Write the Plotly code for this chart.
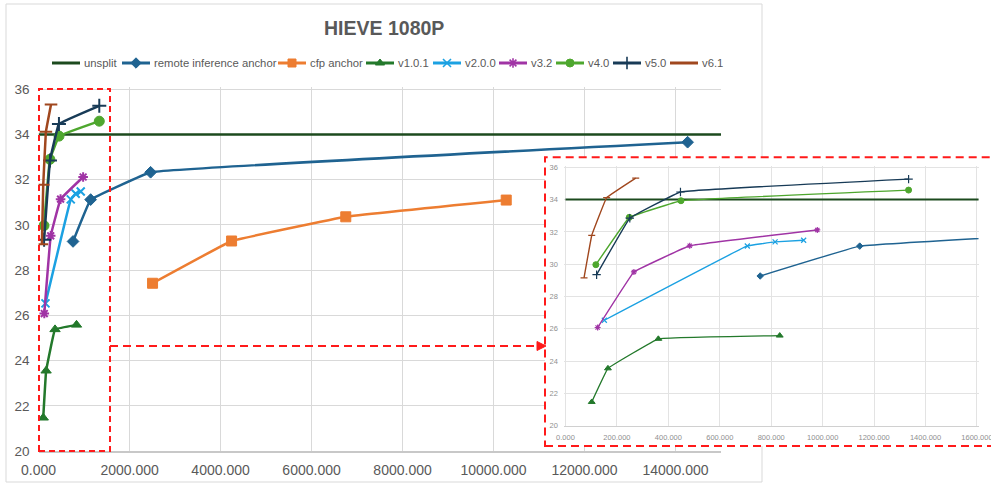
import plotly.graph_objects as go

# ---------------- data ----------------
unsplit_x = [0, 15000]
unsplit_y = [34.0, 34.0]
remote_x = [757, 1144, 2462, 14266]
remote_y = [29.27, 31.12, 32.33, 33.66]
cfp_x = [2505, 4242, 6752, 10279]
cfp_y = [27.42, 29.29, 30.36, 31.10]
v101_x = [102, 165, 361, 833]
v101_y = [21.47, 23.55, 25.38, 25.58]
v200_x = [151, 707, 815, 926]
v200_y = [26.53, 31.13, 31.38, 31.48]
v32_x = [125, 266, 483, 979]
v32_y = [26.08, 29.52, 31.14, 32.12]
v40_x = [118, 248, 449, 1334]
v40_y = [29.97, 32.90, 33.93, 34.59]
v50_x = [121, 250, 447, 1334]
v50_y = [29.35, 32.85, 34.47, 35.27]
v61_x = [72, 102, 160, 273]
v61_y = [29.15, 31.78, 34.12, 35.33]

series_names = ["unsplit", "remote inference anchor", "cfp anchor", "v1.0.1",
                "v2.0.0", "v3.2", "v4.0", "v5.0", "v6.1"]
series_x = [unsplit_x, remote_x, cfp_x, v101_x, v200_x, v32_x, v40_x, v50_x, v61_x]
series_y = [unsplit_y, remote_y, cfp_y, v101_y, v200_y, v32_y, v40_y, v50_y, v61_y]

title_text = "HIEVE 1080P"

# ---------------- styles ----------------
colors = ["#1C4A1E", "#1F6391", "#ED7D31", "#23792B", "#1BA1E2",
          "#A034A5", "#4EA72E", "#183B57", "#A0471E"]
symbols = [None, "diamond", "square", "triangle-up", "x-thin",
           "asterisk", "circle", "cross-thin", "line-ew"]
msize_main = [0, 9, 10, 9, 8, 8, 10, 10, 9]
msize_inset = [0, 5, 5, 6, 5, 5, 6, 6, 5]
legend_x0 = [52, 122, 278, 366, 433, 499, 556, 613, 670]

W, H = 991, 483


def fx(p):
    return p / W


def fy(p):
    return 1 - p / H


fig = go.Figure()

# invisible trace creating the white "cover" subplot for the inset
fig.add_trace(go.Scatter(x=[0], y=[0], xaxis="x2", yaxis="y2", mode="markers",
                         marker=dict(opacity=0), hoverinfo="skip", showlegend=False))

for i, name in enumerate(series_names):
    sym = symbols[i]
    thin = sym in ("x-thin", "asterisk", "cross-thin", "line-ew")
    for ax, lw, ms in (("", 2.5, msize_main[i]), ("3", 1.4, msize_inset[i])):
        if ax and sym is None:
            lw = 2
        kw = dict(x=series_x[i], y=series_y[i], name=name, showlegend=False,
                  line=dict(color=colors[i], width=lw, shape="spline", smoothing=0.15),
                  hoverinfo="skip")
        if sym is None:
            kw["mode"] = "lines"
        else:
            kw["mode"] = "lines+markers"
            kw["marker"] = dict(symbol=sym, size=ms, color=colors[i],
                                line=dict(color=colors[i],
                                          width=(2 if ax == "" else 1.2) if thin else 1))
        if ax:
            kw["xaxis"] = "x3"
            kw["yaxis"] = "y3"
        fig.add_trace(go.Scatter(**kw))

# manual legend (own small subplot in pixel units)
annotations = []
for i, name in enumerate(series_names):
    x0 = legend_x0[i]
    fig.add_trace(go.Scatter(x=[x0, x0 + 28], y=[0, 0], xaxis="x4", yaxis="y4",
                             mode="lines", line=dict(color=colors[i], width=3),
                             hoverinfo="skip", showlegend=False))
    if symbols[i] is not None and symbols[i] != "line-ew":
        thin = symbols[i] in ("x-thin", "asterisk", "cross-thin")
        fig.add_trace(go.Scatter(x=[x0 + 14], y=[0], xaxis="x4", yaxis="y4",
                                 mode="markers",
                                 marker=dict(symbol=symbols[i], size=8 if symbols[i] != "cross-thin" else 9,
                                             color=colors[i],
                                             line=dict(color=colors[i], width=1.6 if thin else 1)),
                                 hoverinfo="skip", showlegend=False))
    annotations.append(dict(x=x0 + 30, y=0, xref="x4", yref="y4", text=name,
                            showarrow=False, xanchor="left", yanchor="middle",
                            font=dict(family="Liberation Sans", size=11.3, color="#595959")))

annotations.append(dict(x=fx(384), y=fy(28), xref="paper", yref="paper", text="<b>" + title_text + "</b>",
                        showarrow=False, xanchor="center", yanchor="middle",
                        font=dict(family="Liberation Sans", size=19.5, color="#595959")))

red = "#FF1A1A"
shapes = [
    # chart outer border
    dict(type="rect", xref="paper", yref="paper", x0=fx(6), x1=fx(762), y0=fy(482), y1=fy(4),
         line=dict(color="#D9D9D9", width=1), layer="below"),
    # zoom box on main chart
    dict(type="rect", xref="paper", yref="paper", x0=fx(39), x1=fx(110), y0=fy(451), y1=fy(89),
         line=dict(color=red, width=2, dash="6px,4px"), layer="above"),
    # dashed arrow
    dict(type="line", xref="paper", yref="paper", x0=fx(110), x1=fx(538), y0=fy(346), y1=fy(346),
         line=dict(color=red, width=2, dash="8px,5px"), layer="above"),
    dict(type="path", xref="paper", yref="paper",
         path="M %f,%f L %f,%f L %f,%f Z" % (fx(537), fy(341.5), fx(546), fy(346), fx(537), fy(350.5)),
         fillcolor=red, line=dict(color=red, width=1), layer="above"),
    # inset border
    dict(type="rect", xref="paper", yref="paper", x0=fx(545), x1=fx(1000), y0=fy(446), y1=fy(157.3),
         line=dict(color=red, width=2, dash="8px,5px"), layer="above"),
]

# main axes geometry (pixel) and slightly padded ranges so edge gridlines show
main_px_per_y = (451 - 89.3) / 16.0
main_ytop = 36.1
inset_px_per_x = (977 - 565.5) / 1600.0
inset_px_per_y = (425.7 - 167.3) / 16.0
inset_xmin, inset_xmax = -6, 1606
inset_ytop = 36.1

grid = "#D9D9D9"
fig.update_layout(
    width=W, height=H,
    margin=dict(l=0, r=0, t=0, b=0, autoexpand=False),
    paper_bgcolor="white", plot_bgcolor="white",
    showlegend=False, hovermode=False,
    font=dict(family="Liberation Sans", color="#595959"),
    xaxis=dict(domain=[fx(38.6), fx(721)], range=[0, 15000], dtick=2000, tick0=0,
               tickformat=".3f", showgrid=True, gridcolor=grid, gridwidth=1,
               zeroline=False, showline=True, linecolor="#C8C8C8", linewidth=1.5,
               ticks="", ticklabelstandoff=5, automargin=False,
               tickfont=dict(family="Liberation Sans", size=14, color="#595959"),
               anchor="y", fixedrange=True),
    yaxis=dict(domain=[fy(451), fy(89.3 - (main_ytop - 36) * main_px_per_y)],
               range=[20, main_ytop], dtick=2, tick0=20,
               showgrid=True, gridcolor=grid, gridwidth=1, zeroline=False, showline=False,
               ticks="", ticklabelstandoff=8, automargin=False,
               tickfont=dict(family="Liberation Sans", size=13.5, color="#595959"),
               anchor="x", fixedrange=True),
    xaxis2=dict(domain=[fx(545), 1.0], range=[0, 1], visible=False, anchor="y2",
                automargin=False, fixedrange=True),
    yaxis2=dict(domain=[fy(446), fy(157.3)], range=[0, 1], visible=False, anchor="x2",
                automargin=False, fixedrange=True),
    xaxis3=dict(domain=[fx(565.5 + inset_xmin * inset_px_per_x), fx(565.5 + inset_xmax * inset_px_per_x)],
                range=[inset_xmin, inset_xmax], dtick=200, tick0=0,
                tickformat=".3f", showgrid=True, gridcolor="#E3E3E3", gridwidth=1,
                zeroline=False, showline=True, linecolor="#D0D0D0", linewidth=1,
                ticks="", ticklabelstandoff=4, automargin=False, ticklabeloverflow="allow",
                tickfont=dict(family="Liberation Sans", size=7.5, color="#8F8F8F"),
                anchor="y3", fixedrange=True),
    yaxis3=dict(domain=[fy(425.7), fy(167.3 - (inset_ytop - 36) * inset_px_per_y)],
                range=[20, inset_ytop], dtick=2, tick0=20,
                showgrid=True, gridcolor="#E3E3E3", gridwidth=1, zeroline=False,
                showline=False, ticks="", ticklabelstandoff=5, automargin=False,
                tickfont=dict(family="Liberation Sans", size=7.5, color="#8F8F8F"),
                anchor="x3", fixedrange=True),
    xaxis4=dict(domain=[0, 1], range=[0, W], visible=False, anchor="y4",
                automargin=False, fixedrange=True),
    yaxis4=dict(domain=[fy(75), fy(51)], range=[-1, 1], visible=False, anchor="x4",
                automargin=False, fixedrange=True),
    annotations=annotations,
    shapes=shapes,
)

fig.write_html("out.html", config={"displayModeBar": False},
               post_script="document.body.style.margin='0';document.body.style.overflow='hidden';")
